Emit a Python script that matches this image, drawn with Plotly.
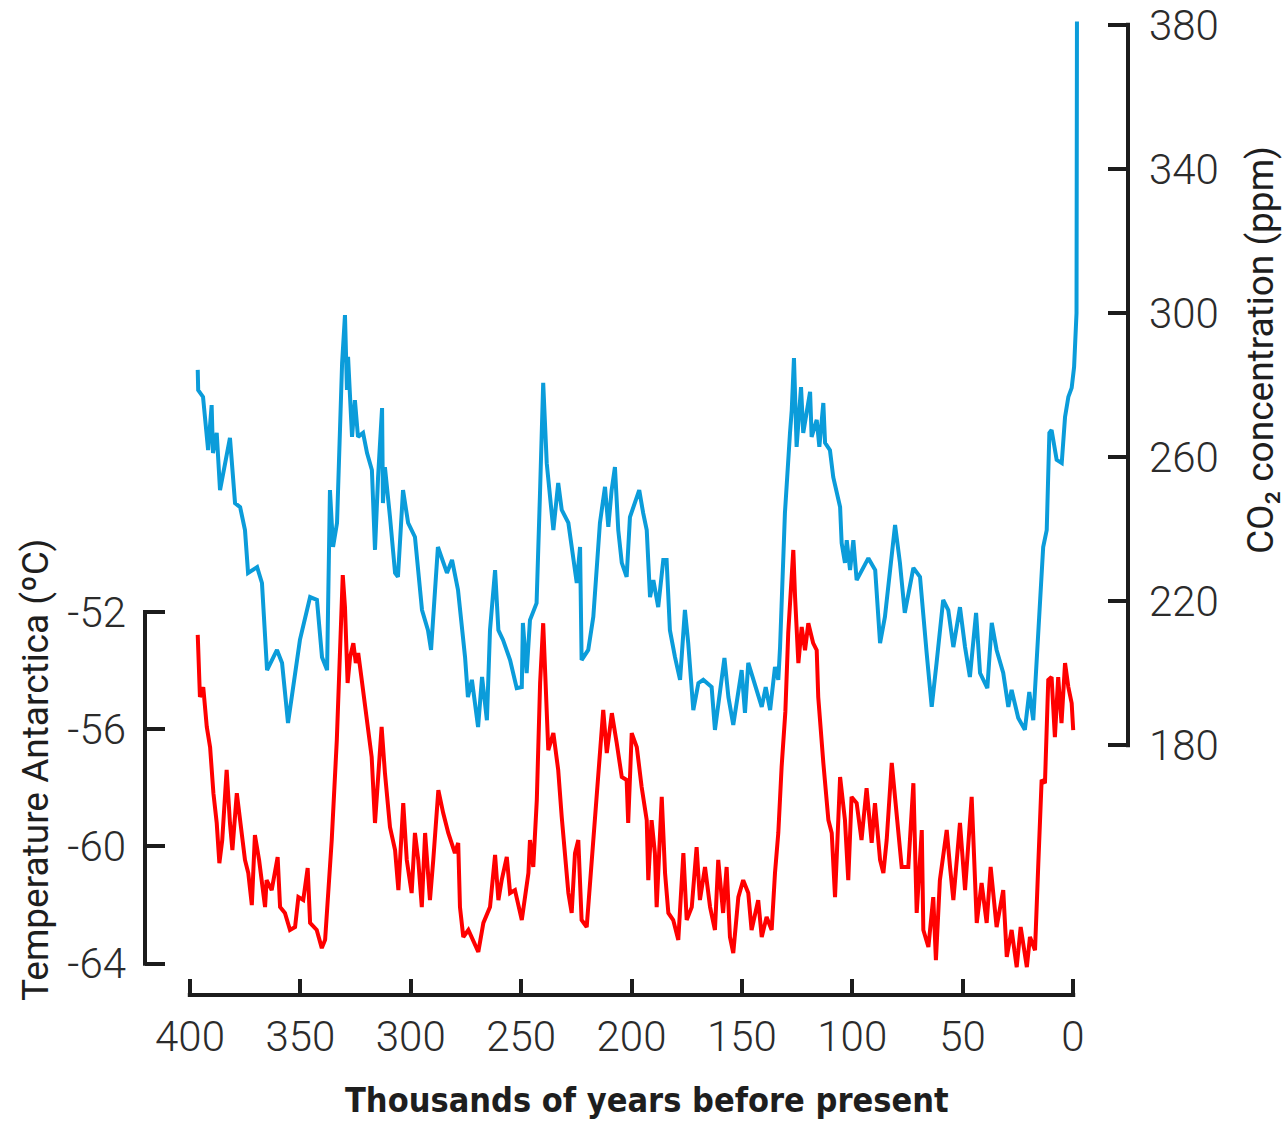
import plotly.graph_objects as go

# ---- data ----
co2_age = [396.5, 396.3, 394.1, 391.8, 390.2, 389.6, 387.9, 386.4, 381.9, 379.6, 377.3, 375.1, 373.7,
           369.6, 367.4, 365.1, 360.6, 358.3, 355.6, 350.2, 345.6, 342.5, 340.2, 337.9, 336.6, 335.2,
           333.4, 331.1, 329.8, 328.9, 328.4, 327.5, 326.6, 325.3, 323.9, 321.6, 319.8, 317.6, 316.2,
           314.8, 313.0, 312.6, 311.7, 309.4, 307.1, 305.8, 303.5, 301.2, 298.1, 294.9, 292.2, 290.8,
           287.7, 283.6, 281.3, 278.6, 275.4, 274.1, 272.3, 269.5, 267.7, 265.5, 264.1, 261.8, 260.3,
           258.2, 255.0, 252.0, 249.7, 249.2, 247.5, 246.0, 243.0, 241.5, 240.0, 238.4, 236.2, 235.4,
           233.2, 231.6, 228.6, 226.4, 224.8, 223.3, 222.6, 219.6, 217.3, 214.3, 212.0, 210.5, 209.0,
           207.5, 206.0, 204.4, 202.2, 200.7, 198.4, 196.5, 194.7, 193.1, 191.6, 190.1, 187.9, 185.6,
           184.1, 182.6, 180.3, 178.0, 175.8, 174.3, 172.0, 169.7, 167.5, 163.7, 162.2, 157.9, 156.1,
           153.9, 150.1, 148.6, 147.1, 144.1, 141.0, 139.2, 137.2, 135.0, 133.5, 132.7, 131.7, 130.5,
           128.2, 127.4, 126.4, 125.2, 123.2, 122.2, 119.1, 118.4, 116.1, 114.9, 113.1, 112.3, 110.1,
           108.6, 105.5, 104.8, 103.3, 102.5, 101.0, 99.5, 98.0, 92.7, 89.6, 87.4, 85.2, 80.6, 78.4,
           76.2, 72.3, 69.3, 66.3, 64.0, 61.8, 58.8, 56.5, 54.2, 51.2, 48.9, 46.7, 43.9, 42.1, 38.8,
           36.8, 34.6, 31.6, 29.3, 27.8, 24.8, 21.8, 19.8, 18.0, 15.7, 13.5, 11.9, 10.7, 9.7, 7.4,
           5.1, 3.6, 2.1, 0.6, -0.5, -1.6, -1.8]
co2_ppm = [284.2, 278.6, 276.7, 261.9, 274.4, 261.1, 266.7, 250.8, 265.3, 247.2, 246.1, 239.7, 227.8,
           229.4, 225.0, 200.8, 206.4, 202.8, 186.1, 209.2, 221.1, 220.3, 204.4, 200.8, 250.8, 235.0,
           241.7, 286.1, 299.4, 278.6, 287.8, 273.9, 265.6, 275.8, 265.6, 266.7, 261.1, 256.4, 234.2,
           254.4, 273.6, 247.2, 257.2, 243.3, 227.8, 226.7, 250.8, 241.7, 237.8, 217.5, 211.9, 206.4,
           235.0, 227.8, 231.4, 223.1, 204.4, 193.3, 198.1, 185.0, 198.9, 186.9, 211.9, 228.6, 211.9,
           209.2, 203.6, 195.8, 196.1, 213.9, 200.0, 214.7, 219.4, 248.9, 280.6, 258.3, 246.1, 239.7,
           252.8, 245.3, 241.7, 232.2, 225.0, 235.0, 203.6, 206.4, 215.6, 241.7, 251.7, 240.6, 250.8,
           257.2, 239.7, 230.6, 226.7, 243.3, 247.2, 250.8, 244.4, 239.7, 221.1, 225.8, 218.3, 231.4,
           231.4, 211.9, 204.4, 198.1, 217.5, 208.3, 189.7, 197.2, 198.1, 196.1, 184.2, 204.2, 193.3,
           185.6, 200.8, 188.9, 202.8, 197.2, 190.6, 196.1, 189.7, 201.7, 198.1, 207.2, 223.6, 244.4,
           266.7, 273.1, 287.5, 262.8, 279.4, 266.7, 278.1, 265.6, 270.3, 262.8, 275.0, 263.9, 261.9,
           254.4, 246.1, 236.1, 230.6, 236.9, 228.6, 236.9, 225.8, 231.9, 228.6, 208.3, 215.6, 241.1, 230.6,
           216.7, 229.2, 226.7, 205.6, 190.6, 202.8, 220.3, 217.5, 207.2, 218.3, 207.2, 198.9, 216.7, 200.0, 195.8,
           213.9, 206.4, 200.0, 190.6, 195.3, 187.5, 184.2, 194.7, 186.9, 210.0, 235.0, 239.7, 266.7, 267.5, 259.2,
           258.3, 271.1, 276.7, 279.2, 285.0, 300.0, 381.0]

temp_age = [396.5, 396.2, 395.5, 394.0, 392.4, 390.9, 389.4, 387.9, 386.7, 385.4, 383.4, 381.9, 380.8,
            378.8, 377.3, 375.1, 373.6, 372.0, 370.6, 368.7, 366.0, 365.3, 363.0, 360.3, 359.2, 357.0,
            354.7, 352.4, 350.9, 348.7, 346.7, 345.6, 342.6, 340.3, 338.8, 335.8, 333.5, 332.0, 330.8,
            329.8, 328.6, 327.5, 326.0, 324.9, 323.8, 322.2, 320.0, 317.7, 316.2, 314.7, 313.2, 311.7,
            309.4, 307.1, 305.6, 303.4, 301.8, 299.6, 298.1, 296.6, 295.0, 293.5, 291.3, 289.8, 287.5,
            285.3, 283.0, 280.0, 278.5, 277.7, 276.2, 273.9, 269.4, 267.1, 264.1, 261.8, 260.3, 258.8,
            256.5, 255.0, 252.8, 249.7, 248.2, 246.7, 246.0, 244.5, 242.9, 241.4, 240.0, 239.2, 237.7,
            235.4, 233.2, 231.6, 230.1, 228.6, 227.1, 225.6, 224.1, 222.6, 220.3, 218.0, 216.5, 214.3,
            212.8, 211.2, 208.9, 206.7, 204.4, 202.2, 201.5, 199.9, 197.6, 195.4, 193.1, 192.4, 190.9,
            189.4, 188.6, 186.3, 184.8, 183.3, 181.1, 178.8, 176.5, 175.0, 172.7, 170.5, 169.0, 166.7,
            164.4, 162.2, 160.7, 158.5, 156.9, 155.4, 153.9, 151.6, 149.4, 147.1, 145.6, 142.6, 141.0,
            138.8, 136.5, 135.0, 133.5, 132.0, 130.3, 129.0, 128.2, 126.7, 125.9, 124.4, 122.9, 121.4,
            119.9, 117.7, 116.1, 115.4, 113.1, 110.8, 109.3, 107.8, 105.5, 103.3, 101.8, 100.3, 98.0,
            95.8, 93.5, 91.2, 89.7, 87.4, 85.9, 84.4, 82.1, 79.9, 77.6, 74.6, 72.3, 70.8, 68.5, 67.8,
            65.5, 63.3, 62.1, 60.3, 57.2, 55.7, 54.2, 51.2, 48.9, 45.9, 43.6, 41.4, 39.1, 37.3, 34.6,
            31.6, 30.0, 27.8, 25.5, 23.7, 20.9, 19.5, 17.2, 15.7, 14.2, 12.7, 11.2, 9.7, 8.2, 6.7, 5.2,
            3.6, 2.1, 0.6, -0.1]
temp_c = [-52.78, -53.88, -54.90, -54.56, -55.92, -56.61, -58.18, -59.20, -60.57, -59.78, -57.39, -59.20, -60.12,
          -58.18, -59.20, -60.46, -60.91, -62.00, -59.61, -60.46, -62.07, -61.15, -61.49, -60.36, -62.07, -62.27,
          -62.85, -62.75, -61.73, -61.83, -60.74, -62.61, -62.85, -63.47, -63.19, -59.78, -56.37, -52.96, -50.74,
          -51.83, -54.42, -53.54, -53.06, -53.74, -53.40, -54.32, -55.69, -56.95, -59.20, -57.49, -55.92, -57.49,
          -59.34, -60.12, -61.49, -58.52, -60.46, -61.59, -59.54, -60.46, -62.07, -59.54, -61.83, -60.46, -58.08,
          -58.86, -59.54, -60.23, -59.88, -62.07, -63.09, -62.85, -63.60, -62.61, -62.07, -60.29, -61.83, -61.15,
          -60.36, -61.59, -61.49, -62.51, -61.59, -60.91, -59.78, -60.70, -58.42, -54.42, -52.38, -53.88, -56.71,
          -56.13, -57.39, -59.00, -60.23, -61.59, -62.27, -60.23, -59.78, -62.51, -62.75, -60.57, -59.00, -56.95,
          -55.34, -56.81, -55.45, -56.47, -57.63, -57.73, -59.20, -56.13, -56.61, -57.97, -59.10, -61.15, -59.10,
          -60.23, -62.07, -58.31, -60.91, -62.27, -62.51, -63.19, -60.23, -62.51, -62.07, -60.02, -61.83, -60.70,
          -62.07, -62.85, -60.46, -62.27, -60.70, -63.09, -63.64, -61.73, -61.15, -61.59, -62.85, -61.83, -63.09,
          -62.41, -62.85, -60.91, -59.54, -57.29, -55.40, -52.72, -51.49, -49.88, -51.49, -53.74, -52.51, -53.30,
          -52.38, -53.06, -53.30, -54.90, -57.15, -59.10, -59.54, -61.73, -57.63, -59.10, -61.15, -58.31, -58.52,
          -59.78, -58.01, -59.88, -58.52, -60.46, -60.91, -59.78, -57.15, -58.86, -60.70, -60.70, -57.84, -62.27, -59.44, -62.85,
          -63.43, -61.73, -63.88, -61.15, -59.44, -60.70, -61.83, -59.20, -61.49, -58.31, -62.61, -61.25, -62.61, -60.70, -62.75,
          -61.49, -63.77, -62.85, -64.12, -62.75, -64.12, -63.09, -63.54, -60.57, -57.73, -57.84, -54.32, -54.22, -56.27, -54.22, -55.79,
          -53.74, -54.56, -55.11, -56.03]

x_ticks = [400, 350, 300, 250, 200, 150, 100, 50, 0]
temp_ticks = [-52, -56, -60, -64]
co2_ticks = [180, 220, 260, 300, 340, 380]

BLUE = "#0b9cda"
RED = "#ff0000"
INK = "#1c1c1c"
TICKFONT = dict(family="Roboto, Open Sans, sans-serif", size=42, color="#2b2b2b", weight=300)

fig = go.Figure()
fig.add_trace(go.Scatter(x=co2_age, y=co2_ppm, yaxis="y2", mode="lines",
                         line=dict(color=BLUE, width=4), showlegend=False, hoverinfo="skip"))
fig.add_trace(go.Scatter(x=temp_age, y=temp_c, yaxis="y", mode="lines",
                         line=dict(color=RED, width=4), showlegend=False, hoverinfo="skip"))

fig.update_layout(
    width=1284, height=1125,
    margin=dict(l=145, r=156, t=10, b=130),
    paper_bgcolor="white", plot_bgcolor="white",
    xaxis=dict(range=[420.39, -24.92], tickvals=x_ticks, ticktext=[str(v) for v in x_ticks],
               ticks="inside", ticklen=16, tickwidth=4, tickcolor=INK, automargin=False,
               showline=False, showgrid=False, zeroline=False, tickfont=TICKFONT,
               ticklabelstandoff=13, ticklabeloverflow="allow"),
    yaxis=dict(range=[-65.07, -31.45], tickvals=temp_ticks, ticktext=[str(v) for v in temp_ticks],
               ticks="inside", ticklen=20, tickwidth=4, tickcolor=INK, automargin=False,
               showline=False, showgrid=False, zeroline=False, tickfont=TICKFONT,
               ticklabelstandoff=18, ticklabeloverflow="allow"),
    yaxis2=dict(range=[110.56, 384.17], overlaying="y", side="right", anchor="x",
                tickvals=co2_ticks, ticktext=[str(v) for v in co2_ticks], automargin=False,
                ticks="inside", ticklen=20, tickwidth=4, tickcolor=INK,
                showline=False, showgrid=False, zeroline=False, tickfont=TICKFONT,
                ticklabelstandoff=20, ticklabeloverflow="allow"),
    shapes=[
        dict(type="line", xref="x", yref="paper", x0=401, x1=-1, y0=0, y1=0,
             line=dict(color=INK, width=4)),
        dict(type="line", xref="paper", yref="y", x0=0, x1=0, y0=-64.07, y1=-51.93,
             line=dict(color=INK, width=4)),
        dict(type="line", xref="paper", yref="y2", x0=1, x1=1, y0=179.4, y1=380.6,
             line=dict(color=INK, width=4)),
    ],
    annotations=[
        dict(text="Thousands of years before present", xref="paper", yref="paper",
             x=0.5107, y=-0.1066, xanchor="center", yanchor="middle", showarrow=False,
             font=dict(family="DejaVu Sans Condensed, Roboto, sans-serif", size=34, color="#1e1e1e", weight="bold")),
        dict(text="Temperature Antarctica (ºC)", xref="paper", yref="paper",
             x=-0.1119, y=0.2284, xanchor="center", yanchor="middle", showarrow=False, textangle=-90,
             font=dict(family="Roboto, sans-serif", size=37, color="#1e1e1e")),
        dict(text="CO₂ concentration (ppm)", xref="paper", yref="paper",
             x=1.1343, y=0.6548, xanchor="center", yanchor="middle", showarrow=False, textangle=-90,
             font=dict(family="Roboto, sans-serif", size=37, color="#1e1e1e")),
    ],
)

# Remove the browser's default 8px body margin so the figure fills the window exactly.
fig.write_html("out.html", config={"displayModeBar": False},
               post_script="document.body.style.margin='0';document.body.style.overflow='hidden';")
